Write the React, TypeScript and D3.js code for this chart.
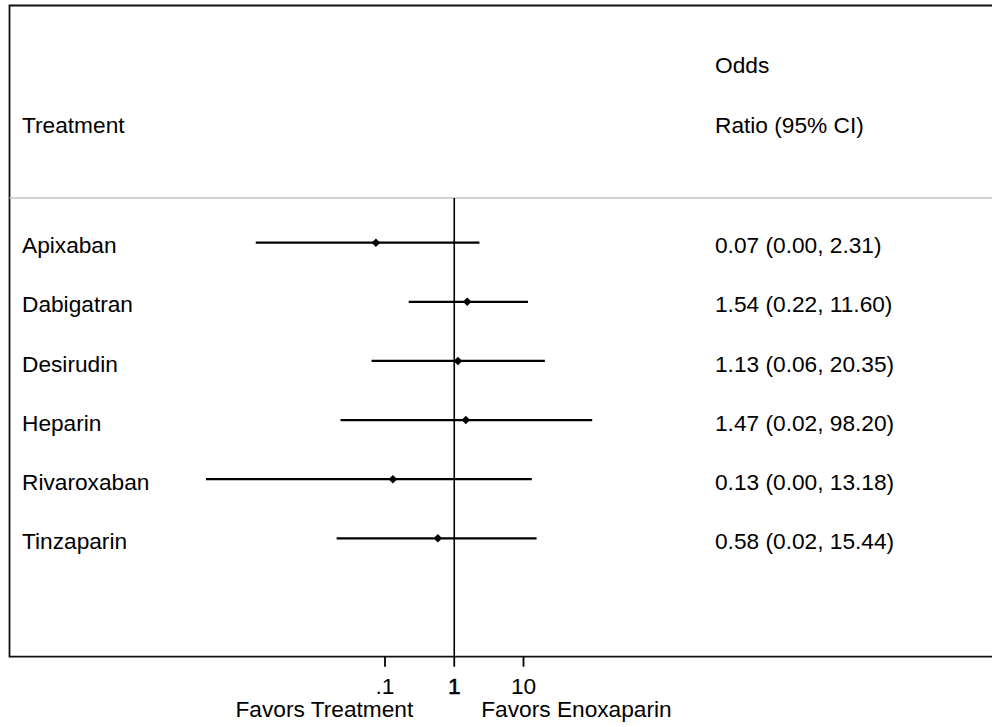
import React from "react";
import * as d3 from "d3";

const treatments = ["Apixaban", "Dabigatran", "Desirudin", "Heparin", "Rivaroxaban", "Tinzaparin"];
const oddsRatio = [0.074, 1.54, 1.13, 1.47, 0.13, 0.58];
const ciLower = [0.00136, 0.22, 0.064, 0.0228, 0.00026, 0.02];
const ciUpper = [2.31, 11.6, 20.35, 98.2, 13.18, 15.44];
const estimateLabels = [
  "0.07 (0.00, 2.31)",
  "1.54 (0.22, 11.60)",
  "1.13 (0.06, 20.35)",
  "1.47 (0.02, 98.20)",
  "0.13 (0.00, 13.18)",
  "0.58 (0.02, 15.44)",
];
const tickValues = [0.1, 1, 10];
const tickLabels = [".1", "1", "10"];
const headerLeft = "Treatment";
const headerRight = ["Odds", "Ratio (95% CI)"];
const favorLeft = "Favors Treatment";
const favorRight = "Favors Enoxaparin";

const W = 992;
const H = 727;
const FONT = "'Liberation Sans', Arial, Helvetica, sans-serif";
const FS = 22.7;

export default function App() {
  const x = d3.scaleLog().domain([0.1, 10]).range([385, 523.5]);
  const y = d3.scaleLinear().domain([0, 5]).range([242.7, 538.3]);
  const boxLeft = 9.5;
  const boxTop = 5.5;
  const axisY = 656.7;
  const headerLineY = 198;
  const leftTextX = 22;
  const rightTextX = 715;
  const baseOff = 10.6;
  const x1 = x(1);

  const diamond = (cx: number, cy: number, r: number) =>
    `M${cx},${cy - r}L${cx + r},${cy}L${cx},${cy + r}L${cx - r},${cy}Z`;

  return (
    <svg
      width={W}
      height={H}
      style={{ position: "absolute", left: 0, top: 0, background: "#fff" }}
      fontFamily={FONT}
      fontSize={FS}
    >
      <rect x={0} y={0} width={W} height={H} fill="#fff" />
      {/* outer box */}
      <path
        d={`M${W + 5},${boxTop}L${boxLeft},${boxTop}L${boxLeft},${axisY}L${W + 5},${axisY}`}
        fill="none"
        stroke="#111"
        strokeWidth={1.8}
      />
      {/* header separator */}
      <line x1={boxLeft} x2={W} y1={headerLineY} y2={headerLineY} stroke="#c4c4c4" strokeWidth={1.5} />
      {/* header text */}
      <text x={leftTextX} y={133.3} fill="#000">{headerLeft}</text>
      <text x={rightTextX} y={73.3} fill="#000">{headerRight[0]}</text>
      <text x={rightTextX} y={133.3} fill="#000">{headerRight[1]}</text>
      {/* null line */}
      <line x1={x1} x2={x1} y1={headerLineY} y2={axisY} stroke="#000" strokeWidth={1.6} />
      {/* rows */}
      {treatments.map((t, i) => (
        <g key={t}>
          <text x={leftTextX} y={y(i) + baseOff} fill="#000">{t}</text>
          <line
            x1={x(ciLower[i])}
            x2={x(ciUpper[i])}
            y1={y(i)}
            y2={y(i)}
            stroke="#000"
            strokeWidth={2.2}
          />
          <path d={diamond(x(oddsRatio[i]), y(i), 4.3)} fill="#000" />
          <text x={rightTextX} y={y(i) + baseOff} fill="#000">{estimateLabels[i]}</text>
        </g>
      ))}
      {/* axis ticks */}
      {tickValues.map((v, i) => (
        <g key={v}>
          <line x1={x(v)} x2={x(v)} y1={axisY} y2={axisY + 10} stroke="#000" strokeWidth={1.8} />
          <text
            x={x(v)}
            y={694}
            textAnchor="middle"
            fill="#000"
            stroke={v === 1 ? "#000" : "none"}
            strokeWidth={v === 1 ? 0.6 : 0}
          >
            {tickLabels[i]}
          </text>
        </g>
      ))}
      <text x={x1 - 41} y={717} textAnchor="end" fill="#000">{favorLeft}</text>
      <text x={x1 + 27} y={717} textAnchor="start" fill="#000">{favorRight}</text>
    </svg>
  );
}
